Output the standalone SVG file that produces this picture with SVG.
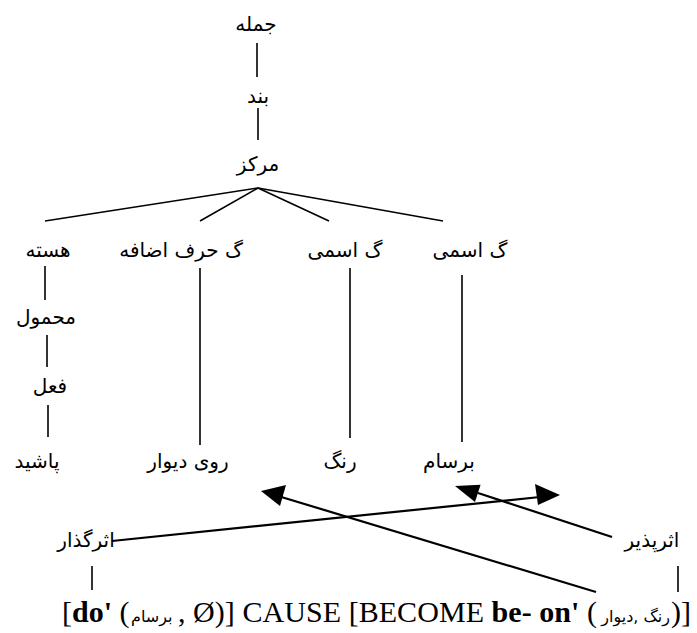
<svg xmlns="http://www.w3.org/2000/svg" width="697" height="633" viewBox="0 0 697 633">
<style>
.fa{font-family:"DejaVu Sans",sans-serif;font-size:20px;fill:#000;text-anchor:middle}
.ln{stroke:#000;stroke-width:1.6;fill:none}
.ar{stroke:#000;stroke-width:2.2;fill:none}
.hd{fill:#000;stroke:none}
.fm{font-family:"Liberation Serif",serif;font-size:30px;fill:#000}
.fs{font-family:"DejaVu Sans",sans-serif;font-size:16px;fill:#000}
</style>
<rect width="697" height="633" fill="#fff"/>
<g id="connectors">
<line class="ln" x1="257" y1="43" x2="257" y2="77"/>
<line class="ln" x1="258" y1="108" x2="258" y2="140"/>
<line class="ln" x1="258" y1="188" x2="45" y2="221"/>
<line class="ln" x1="258" y1="188" x2="200" y2="221"/>
<line class="ln" x1="258" y1="188" x2="329" y2="221"/>
<line class="ln" x1="258" y1="188" x2="443" y2="221"/>
<line class="ln" x1="45" y1="266" x2="45" y2="300"/>
<line class="ln" x1="47" y1="335" x2="47" y2="367"/>
<line class="ln" x1="48" y1="405" x2="48" y2="437"/>
<line class="ln" x1="200" y1="268" x2="200" y2="445"/>
<line class="ln" x1="350" y1="268" x2="350" y2="438"/>
<line class="ln" x1="462" y1="275" x2="462" y2="442"/>
<line class="ln" x1="92" y1="566" x2="92" y2="590"/>
<line class="ln" x1="678" y1="566" x2="678" y2="592"/>
<path class="ar" d="M112,541 L540,497"/>
<path class="hd" d="M560,495 l-25,-11 l3,21 z"/>
<path class="ar" d="M612,537 L478,493"/>
<path class="hd" d="M455,486 L480.6,484.8 L475,502 z"/>
<path class="ar" d="M596,592 L278,496"/>
<path class="hd" d="M261,491 l25,-6 l-6,21 z"/>
</g>
<g id="n-jomle"><text class="fa" x="256" y="31">جمله</text></g>
<g id="n-band"><text class="fa" x="258" y="103">بند</text></g>
<g id="n-markaz"><text class="fa" x="258" y="171">مرکز</text></g>
<g id="n-haste"><text class="fa" x="48" y="257">هسته</text></g>
<g id="n-gharf"><text class="fa" x="181" y="257">گ حرف اضافه</text></g>
<g id="n-gesmi1"><text class="fa" x="345" y="257">گ اسمی</text></g>
<g id="n-gesmi2"><text class="fa" x="470" y="257">گ اسمی</text></g>
<g id="n-mahmul"><text class="fa" x="46" y="324">محمول</text></g>
<g id="n-fel"><text class="fa" x="50" y="393">فعل</text></g>
<g id="n-pashid"><text class="fa" x="37" y="468">پاشید</text></g>
<g id="n-ruydivar"><text class="fa" x="188" y="468">روی دیوار</text></g>
<g id="n-rang"><text class="fa" x="340" y="468">رنگ</text></g>
<g id="n-barsam"><text class="fa" x="449" y="468">برسام</text></g>
<g id="n-asargozar"><text class="fa" x="86" y="547">اثرگذار</text></g>
<g id="n-asarpazir"><text class="fa" x="652" y="547">اثرپذیر</text></g>
<g id="n-formula">
<text class="fm" x="62" y="622">[<tspan font-weight="bold">do'</tspan> (</text>
<text class="fs" x="131" y="622">برسام</text>
<text class="fm" x="178" y="622" textLength="419" lengthAdjust="spacing">, Ø)] CAUSE [BECOME <tspan font-weight="bold">be- on'</tspan> (</text>
<text class="fs" x="670" y="622" text-anchor="end">رنگ ,دیوار</text>
<text class="fm" x="671" y="622">)]</text>
</g>
</svg>
